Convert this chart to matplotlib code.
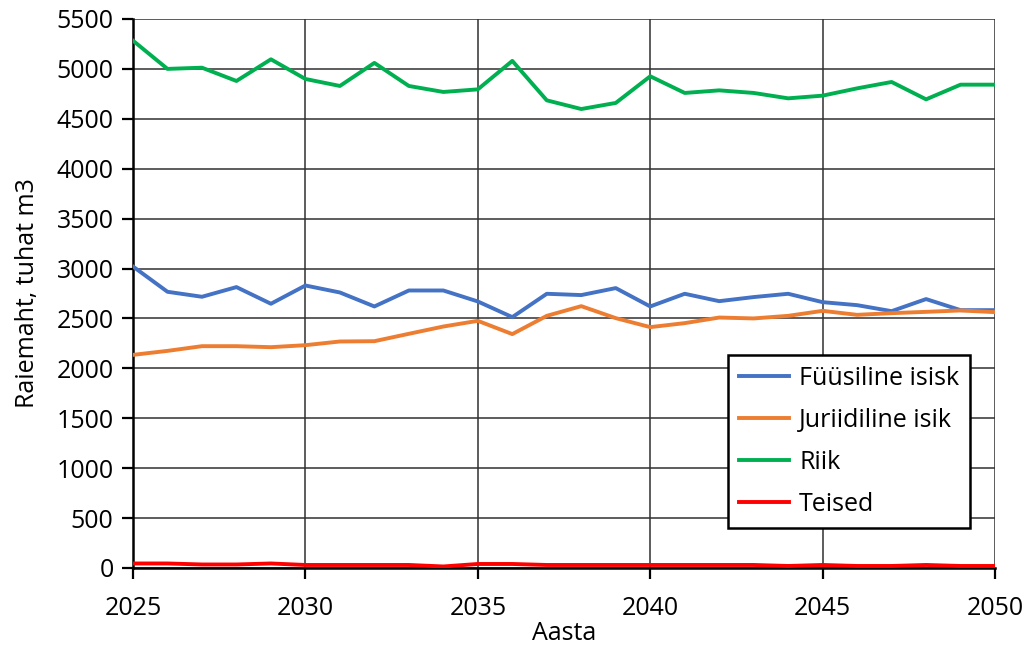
import matplotlib
matplotlib.use("Agg")
import matplotlib.pyplot as plt

years = list(range(2025, 2051))

fuusiline = [3020, 2767, 2717, 2814, 2647, 2830, 2760, 2620, 2780, 2780,
             2670, 2513, 2747, 2734, 2804, 2620, 2747, 2673, 2714, 2747,
             2663, 2633, 2573, 2694, 2583, 2583]
juriidiline = [2135, 2175, 2222, 2222, 2212, 2232, 2269, 2272, 2346, 2419,
               2476, 2343, 2526, 2623, 2503, 2413, 2453, 2509, 2500, 2526,
               2576, 2536, 2553, 2566, 2580, 2563]
riik = [5283, 5000, 5012, 4879, 5096, 4899, 4829, 5060, 4829, 4769,
        4795, 5080, 4685, 4598, 4659, 4926, 4759, 4785, 4759, 4705,
        4732, 4805, 4869, 4695, 4842, 4842]
teised = [45, 45, 35, 35, 45, 30, 30, 30, 30, 15,
          40, 40, 30, 30, 30, 30, 30, 30, 30, 20,
          30, 20, 20, 30, 20, 20]

series_names = ["Füüsiline isisk", "Juriidiline isik", "Riik", "Teised"]
colors = ["#4472C4", "#ED7D31", "#00B050", "#FF0000"]

plt.rcParams["font.family"] = ["Open Sans", "DejaVu Sans"]

fig = plt.figure(figsize=(10.27, 6.48), dpi=100)
ax = fig.add_axes([0.1295, 0.1235, 0.8394, 0.8472])

for vals, name, c in zip([fuusiline, juriidiline, riik, teised], series_names, colors):
    ax.plot(years, vals, color=c, linewidth=2.8, label=name)

ax.set_xlim(2025, 2050)
ax.set_ylim(0, 5500)
ax.set_xticks(range(2025, 2051, 5))
ax.set_yticks(range(0, 5501, 500))
ax.grid(True, color="#303030", linewidth=1.1)
ax.set_axisbelow(True)

for side in ["top", "right"]:
    ax.spines[side].set_visible(False)
for side in ["left", "bottom"]:
    ax.spines[side].set_linewidth(1.8)
    ax.spines[side].set_color("black")
    ax.spines[side].set_zorder(1)

ax.tick_params(axis="both", direction="out", length=8, width=1.6,
               labelsize=18, pad=6)
ax.tick_params(axis="x", pad=12)

ax.set_xlabel("Aasta", fontsize=18, labelpad=0)
ax.set_ylabel("Raiemaht, tuhat m3", fontsize=18, labelpad=12)

leg = ax.legend(loc="upper left", bbox_to_anchor=(0.690, 0.388), fontsize=18,
                frameon=True, fancybox=False, edgecolor="black",
                handlelength=2.0, handletextpad=0.4, labelspacing=0.68,
                borderpad=0.45, borderaxespad=0)
leg.get_frame().set_linewidth(1.8)
leg.get_frame().set_alpha(1)

fig.savefig("out.png", dpi=100)
